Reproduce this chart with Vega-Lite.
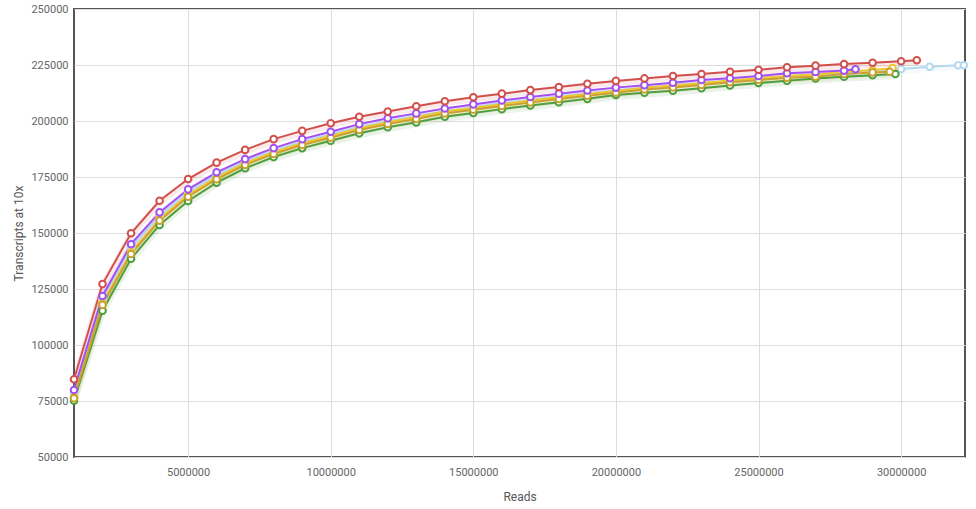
{
  "$schema": "https://vega.github.io/schema/vega-lite/v6.json",
  "width": 891,
  "height": 448,
  "autosize": {"type": "none"},
  "padding": {"left": 74, "top": 9, "right": 11, "bottom": 52},
  "background": "white",
  "config": {
    "font": "Roboto",
    "view": {"stroke": "#555555", "strokeWidth": 2},
    "axis": {"domain": false, "ticks": false, "gridColor": "#dddddd", "gridWidth": 1, "labelColor": "#666666", "labelFontSize": 11, "titleColor": "#555555", "titleFontSize": 12, "titleFontWeight": "normal", "labelFont": "Roboto", "titleFont": "Roboto"}
  },
  "datasets": {
    "pts": [
      {"s": "1_lightblue", "x": 1000000, "y": 78500}, {"s": "1_lightblue", "x": 2000000, "y": 120500}, {"s": "1_lightblue", "x": 3000000, "y": 143500}, {"s": "1_lightblue", "x": 4000000, "y": 157800}, {"s": "1_lightblue", "x": 5000000, "y": 168200}, {"s": "1_lightblue", "x": 6000000, "y": 175900}, {"s": "1_lightblue", "x": 7000000, "y": 181900}, {"s": "1_lightblue", "x": 8000000, "y": 186800}, {"s": "1_lightblue", "x": 9000000, "y": 190800}, {"s": "1_lightblue", "x": 10000000, "y": 194100}, {"s": "1_lightblue", "x": 11000000, "y": 197400}, {"s": "1_lightblue", "x": 12000000, "y": 200000}, {"s": "1_lightblue", "x": 13000000, "y": 202200}, {"s": "1_lightblue", "x": 14000000, "y": 204400}, {"s": "1_lightblue", "x": 15000000, "y": 206200}, {"s": "1_lightblue", "x": 16000000, "y": 208000}, {"s": "1_lightblue", "x": 17000000, "y": 209500}, {"s": "1_lightblue", "x": 18000000, "y": 211000}, {"s": "1_lightblue", "x": 19000000, "y": 212400}, {"s": "1_lightblue", "x": 20000000, "y": 213700}, {"s": "1_lightblue", "x": 21000000, "y": 214900}, {"s": "1_lightblue", "x": 22000000, "y": 216000}, {"s": "1_lightblue", "x": 23000000, "y": 217100}, {"s": "1_lightblue", "x": 24000000, "y": 218000}, {"s": "1_lightblue", "x": 25000000, "y": 219000}, {"s": "1_lightblue", "x": 26000000, "y": 220000}, {"s": "1_lightblue", "x": 27000000, "y": 220900}, {"s": "1_lightblue", "x": 28000000, "y": 221700}, {"s": "1_lightblue", "x": 29000000, "y": 222500}, {"s": "1_lightblue", "x": 30000000, "y": 223200}, {"s": "1_lightblue", "x": 31000000, "y": 224200}, {"s": "1_lightblue", "x": 32000000, "y": 224900}, {"s": "1_lightblue", "x": 32200000, "y": 224900},

      {"s": "2_lightyellow", "x": 1000000, "y": 76800}, {"s": "2_lightyellow", "x": 2000000, "y": 118700}, {"s": "2_lightyellow", "x": 3000000, "y": 141400}, {"s": "2_lightyellow", "x": 4000000, "y": 156300}, {"s": "2_lightyellow", "x": 5000000, "y": 167000}, {"s": "2_lightyellow", "x": 6000000, "y": 174800}, {"s": "2_lightyellow", "x": 7000000, "y": 181200}, {"s": "2_lightyellow", "x": 8000000, "y": 186100}, {"s": "2_lightyellow", "x": 9000000, "y": 190100}, {"s": "2_lightyellow", "x": 10000000, "y": 193300}, {"s": "2_lightyellow", "x": 11000000, "y": 196800}, {"s": "2_lightyellow", "x": 12000000, "y": 199500}, {"s": "2_lightyellow", "x": 13000000, "y": 201700}, {"s": "2_lightyellow", "x": 14000000, "y": 204200}, {"s": "2_lightyellow", "x": 15000000, "y": 205800}, {"s": "2_lightyellow", "x": 16000000, "y": 207500}, {"s": "2_lightyellow", "x": 17000000, "y": 209100}, {"s": "2_lightyellow", "x": 18000000, "y": 210600}, {"s": "2_lightyellow", "x": 19000000, "y": 212100}, {"s": "2_lightyellow", "x": 20000000, "y": 213400}, {"s": "2_lightyellow", "x": 21000000, "y": 214900}, {"s": "2_lightyellow", "x": 22000000, "y": 215800}, {"s": "2_lightyellow", "x": 23000000, "y": 216900}, {"s": "2_lightyellow", "x": 24000000, "y": 218100}, {"s": "2_lightyellow", "x": 25000000, "y": 219100}, {"s": "2_lightyellow", "x": 26000000, "y": 220100}, {"s": "2_lightyellow", "x": 27000000, "y": 220800}, {"s": "2_lightyellow", "x": 28000000, "y": 222000}, {"s": "2_lightyellow", "x": 29000000, "y": 222800}, {"s": "2_lightyellow", "x": 29700000, "y": 223600},

      {"s": "3_green", "x": 1000000, "y": 75100}, {"s": "3_green", "x": 2000000, "y": 115300}, {"s": "3_green", "x": 3000000, "y": 138500}, {"s": "3_green", "x": 4000000, "y": 153600}, {"s": "3_green", "x": 5000000, "y": 164300}, {"s": "3_green", "x": 6000000, "y": 172500}, {"s": "3_green", "x": 7000000, "y": 178900}, {"s": "3_green", "x": 8000000, "y": 183900}, {"s": "3_green", "x": 9000000, "y": 187900}, {"s": "3_green", "x": 10000000, "y": 191200}, {"s": "3_green", "x": 11000000, "y": 194500}, {"s": "3_green", "x": 12000000, "y": 197200}, {"s": "3_green", "x": 13000000, "y": 199400}, {"s": "3_green", "x": 14000000, "y": 201900}, {"s": "3_green", "x": 15000000, "y": 203600}, {"s": "3_green", "x": 16000000, "y": 205300}, {"s": "3_green", "x": 17000000, "y": 206900}, {"s": "3_green", "x": 18000000, "y": 208400}, {"s": "3_green", "x": 19000000, "y": 209900}, {"s": "3_green", "x": 20000000, "y": 211600}, {"s": "3_green", "x": 21000000, "y": 212600}, {"s": "3_green", "x": 22000000, "y": 213500}, {"s": "3_green", "x": 23000000, "y": 214600}, {"s": "3_green", "x": 24000000, "y": 215900}, {"s": "3_green", "x": 25000000, "y": 217000}, {"s": "3_green", "x": 26000000, "y": 218000}, {"s": "3_green", "x": 27000000, "y": 219000}, {"s": "3_green", "x": 28000000, "y": 219800}, {"s": "3_green", "x": 29000000, "y": 220400}, {"s": "3_green", "x": 29800000, "y": 221000},

      {"s": "4_gold", "x": 1000000, "y": 76200}, {"s": "4_gold", "x": 2000000, "y": 117900}, {"s": "4_gold", "x": 3000000, "y": 140600}, {"s": "4_gold", "x": 4000000, "y": 155500}, {"s": "4_gold", "x": 5000000, "y": 166200}, {"s": "4_gold", "x": 6000000, "y": 174000}, {"s": "4_gold", "x": 7000000, "y": 180400}, {"s": "4_gold", "x": 8000000, "y": 185300}, {"s": "4_gold", "x": 9000000, "y": 189300}, {"s": "4_gold", "x": 10000000, "y": 192500}, {"s": "4_gold", "x": 11000000, "y": 196000}, {"s": "4_gold", "x": 12000000, "y": 198700}, {"s": "4_gold", "x": 13000000, "y": 200900}, {"s": "4_gold", "x": 14000000, "y": 203400}, {"s": "4_gold", "x": 15000000, "y": 205000}, {"s": "4_gold", "x": 16000000, "y": 206700}, {"s": "4_gold", "x": 17000000, "y": 208300}, {"s": "4_gold", "x": 18000000, "y": 209800}, {"s": "4_gold", "x": 19000000, "y": 211300}, {"s": "4_gold", "x": 20000000, "y": 212600}, {"s": "4_gold", "x": 21000000, "y": 214100}, {"s": "4_gold", "x": 22000000, "y": 215000}, {"s": "4_gold", "x": 23000000, "y": 216100}, {"s": "4_gold", "x": 24000000, "y": 217300}, {"s": "4_gold", "x": 25000000, "y": 218300}, {"s": "4_gold", "x": 26000000, "y": 219300}, {"s": "4_gold", "x": 27000000, "y": 219800}, {"s": "4_gold", "x": 28000000, "y": 221000}, {"s": "4_gold", "x": 29000000, "y": 221700}, {"s": "4_gold", "x": 29600000, "y": 222000},

      {"s": "5_purple", "x": 1000000, "y": 79900}, {"s": "5_purple", "x": 2000000, "y": 121900}, {"s": "5_purple", "x": 3000000, "y": 145000}, {"s": "5_purple", "x": 4000000, "y": 159200}, {"s": "5_purple", "x": 5000000, "y": 169500}, {"s": "5_purple", "x": 6000000, "y": 177100}, {"s": "5_purple", "x": 7000000, "y": 183000}, {"s": "5_purple", "x": 8000000, "y": 187900}, {"s": "5_purple", "x": 9000000, "y": 191900}, {"s": "5_purple", "x": 10000000, "y": 195200}, {"s": "5_purple", "x": 11000000, "y": 198600}, {"s": "5_purple", "x": 12000000, "y": 201200}, {"s": "5_purple", "x": 13000000, "y": 203400}, {"s": "5_purple", "x": 14000000, "y": 205600}, {"s": "5_purple", "x": 15000000, "y": 207400}, {"s": "5_purple", "x": 16000000, "y": 209200}, {"s": "5_purple", "x": 17000000, "y": 210700}, {"s": "5_purple", "x": 18000000, "y": 212200}, {"s": "5_purple", "x": 19000000, "y": 213600}, {"s": "5_purple", "x": 20000000, "y": 214900}, {"s": "5_purple", "x": 21000000, "y": 216000}, {"s": "5_purple", "x": 22000000, "y": 217100}, {"s": "5_purple", "x": 23000000, "y": 218300}, {"s": "5_purple", "x": 24000000, "y": 219100}, {"s": "5_purple", "x": 25000000, "y": 220100}, {"s": "5_purple", "x": 26000000, "y": 221300}, {"s": "5_purple", "x": 27000000, "y": 221900}, {"s": "5_purple", "x": 28000000, "y": 222500}, {"s": "5_purple", "x": 28400000, "y": 223100},

      {"s": "6_red", "x": 1000000, "y": 84700}, {"s": "6_red", "x": 2000000, "y": 127200}, {"s": "6_red", "x": 3000000, "y": 149900}, {"s": "6_red", "x": 4000000, "y": 164400}, {"s": "6_red", "x": 5000000, "y": 174100}, {"s": "6_red", "x": 6000000, "y": 181400}, {"s": "6_red", "x": 7000000, "y": 187100}, {"s": "6_red", "x": 8000000, "y": 191900}, {"s": "6_red", "x": 9000000, "y": 195600}, {"s": "6_red", "x": 10000000, "y": 199000}, {"s": "6_red", "x": 11000000, "y": 201900}, {"s": "6_red", "x": 12000000, "y": 204200}, {"s": "6_red", "x": 13000000, "y": 206600}, {"s": "6_red", "x": 14000000, "y": 208800}, {"s": "6_red", "x": 15000000, "y": 210600}, {"s": "6_red", "x": 16000000, "y": 212200}, {"s": "6_red", "x": 17000000, "y": 213800}, {"s": "6_red", "x": 18000000, "y": 215200}, {"s": "6_red", "x": 19000000, "y": 216600}, {"s": "6_red", "x": 20000000, "y": 217900}, {"s": "6_red", "x": 21000000, "y": 219000}, {"s": "6_red", "x": 22000000, "y": 220100}, {"s": "6_red", "x": 23000000, "y": 221000}, {"s": "6_red", "x": 24000000, "y": 222000}, {"s": "6_red", "x": 25000000, "y": 222900}, {"s": "6_red", "x": 26000000, "y": 224000}, {"s": "6_red", "x": 27000000, "y": 224700}, {"s": "6_red", "x": 28000000, "y": 225400}, {"s": "6_red", "x": 29000000, "y": 226000}, {"s": "6_red", "x": 30000000, "y": 226650}, {"s": "6_red", "x": 30550000, "y": 227100}
    ]
  },
  "data": {"name": "pts"},
  "encoding": {
    "x": {"field": "x", "type": "quantitative", "title": "Reads",
      "scale": {"domain": [1000000, 32240000], "nice": false, "zero": false},
      "axis": {"values": [5000000, 10000000, 15000000, 20000000, 25000000, 30000000], "format": "d", "labelPadding": 9, "titlePadding": 14}},
    "y": {"field": "y", "type": "quantitative", "title": "Transcripts at 10x",
      "scale": {"domain": [50000, 250000], "nice": false, "zero": false},
      "axis": {"values": [50000, 75000, 100000, 125000, 150000, 175000, 200000, 225000, 250000], "format": "d", "labelPadding": 6, "titlePadding": 5}},
    "color": {"field": "s", "type": "nominal", "legend": null,
      "scale": {"domain": ["1_lightblue", "2_lightyellow", "3_green", "4_gold", "5_purple", "6_red"],
        "range": ["#b4d8f0", "#f2c62c", "#4f9f41", "#c9a22e", "#a150f2", "#d2504c"]}},
    "detail": {"field": "s"}
  },
  "layer": [
    {"mark": {"type": "line", "strokeWidth": 6, "opacity": 0.12, "yOffset": 2}},
    {"mark": {"type": "line", "strokeWidth": 2}},
    {"mark": {"type": "point", "shape": "circle", "filled": false, "fill": "white", "fillOpacity": 1, "size": 44, "strokeWidth": 2, "opacity": 1}}
  ]
}
